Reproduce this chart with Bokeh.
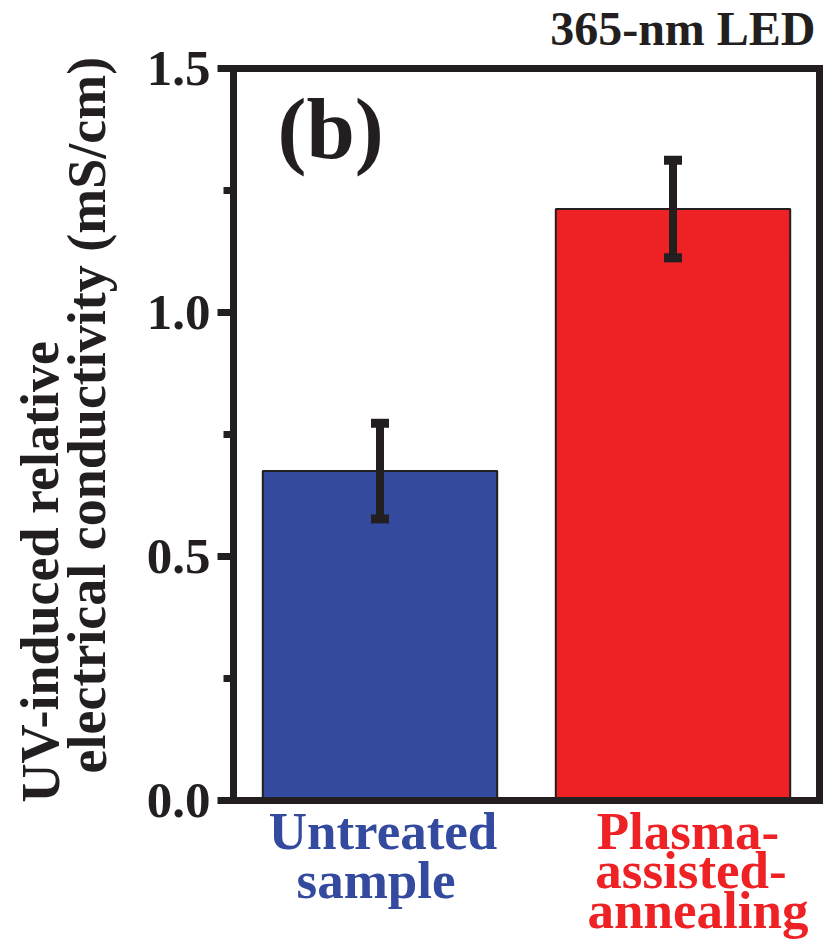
from bokeh.plotting import figure
from bokeh.models import (ColumnDataSource, Whisker, TeeHead, Label,
                          FixedTicker, Range1d, LinearAxis)
from bokeh.embed import file_html
from bokeh.resources import INLINE

# ---- data ----
categories = ["Untreated sample", "Plasma-assisted-annealing"]
cat_lines = [["Untreated", "sample"], ["Plasma-", "assisted-", "annealing"]]
x_pos = [0.5, 1.5]
values = [0.675, 1.212]
errors = [0.098, 0.100]
bar_colors = ["#344A9F", "#EE2224"]
y_ticks = [0.0, 0.5, 1.0, 1.5]
y_minor = [0.25, 0.75, 1.25]
y_tick_labels = {0.0: "0.0", 0.5: "0.5", 1.0: "1.0", 1.5: "1.5"}
y_title_lines = ["UV-induced relative", "electrical conductivity (mS/cm)"]
panel_tag = "(b)"
top_title = "365-nm LED"

INK = "#231F20"
FONT = "Liberation Serif"
W, H = 823, 941

# frame covers the whole canvas; data box (0..2, 0..1.5) maps to px 233..819, 800..68
XS = 293.0
YS = 488.0
x_range = Range1d(-233 / XS, 2 + 4 / XS)
y_range = Range1d(-(H - 800) / YS, 1.5 + 68 / YS)

p = figure(width=W, height=H, output_backend="svg", toolbar_location=None,
           x_range=x_range, y_range=y_range,
           min_border_left=0, min_border_right=0,
           min_border_top=0, min_border_bottom=0)
p.background_fill_color = "white"
p.border_fill_color = "white"
p.outline_line_color = None
p.xgrid.visible = False
p.ygrid.visible = False

# left axis at x = 0
ax = p.yaxis[0]
ax.fixed_location = 0
ax.bounds = (0, 1.5)
ax.ticker = FixedTicker(ticks=y_ticks, minor_ticks=y_minor)
ax.major_label_overrides = y_tick_labels
ax.axis_line_color = INK
ax.axis_line_width = 7
ax.axis_line_cap = "square"
ax.major_tick_line_color = INK
ax.major_tick_line_width = 7
ax.major_tick_out = 16
ax.major_tick_in = 0
ax.minor_tick_line_color = INK
ax.minor_tick_line_width = 7
ax.minor_tick_out = 10
ax.minor_tick_in = 0
ax.major_label_text_font = FONT
ax.major_label_text_font_style = "bold"
ax.major_label_text_font_size = "51px"
ax.major_label_text_color = INK
ax.major_label_standoff = 7


def frame_axis(a, loc, bounds):
    a.fixed_location = loc
    a.bounds = bounds
    a.axis_line_color = INK
    a.axis_line_width = 7
    a.axis_line_cap = "square"
    a.major_tick_line_color = None
    a.minor_tick_line_color = None
    a.major_label_text_font_size = "0px"
    a.major_label_text_alpha = 0


# bottom axis at y = 0
frame_axis(p.xaxis[0], 0, (0, 2))
# right and top frame lines
right_ax = LinearAxis()
frame_axis(right_ax, 2, (0, 1.5))
p.add_layout(right_ax, "right")
top_ax = LinearAxis()
frame_axis(top_ax, 1.5, (0, 2))
p.add_layout(top_ax, "above")

src = ColumnDataSource(dict(
    x=x_pos, top=values, color=bar_colors,
    upper=[v + e for v, e in zip(values, errors)],
    lower=[v - e for v, e in zip(values, errors)],
))

p.vbar(x="x", top="top", bottom=0, width=0.8, source=src,
       fill_color="color", line_color=INK, line_width=2)

wh = Whisker(base="x", upper="upper", lower="lower", source=src,
             level="annotation",
             line_color=INK, line_width=8,
             upper_head=TeeHead(size=18, line_width=9, line_color=INK),
             lower_head=TeeHead(size=18, line_width=9, line_color=INK))
p.add_layout(wh)


def text_label(**kw):
    base = dict(x_units="screen", y_units="screen", text_font=FONT,
                text_font_style="bold", text_color=INK,
                text_align="left", text_baseline="alphabetic")
    base.update(kw)
    p.add_layout(Label(**base))


# y-axis title, two rotated lines
text_label(x=40, y=H - 802, text=y_title_lines[0], angle=1.5708,
           text_font_size="54px")
text_label(x=87, y=H - 773, text=y_title_lines[1], angle=1.5708,
           text_font_size="54px")
# panel tag
text_label(x=277, y=H - 128, text=panel_tag, text_font_size="87px")
# top title
text_label(x=815, y=H - 28, text=top_title, text_font_size="48px",
           text_align="right")

# category labels below bars
baselines = [[830, 879], [830, 869, 909]]
offsets = [[3, -4], [15, 18, 25]]
for i, lines in enumerate(cat_lines):
    for j, line in enumerate(lines):
        text_label(x=x_pos[i], x_units="data", y=H - baselines[i][j],
                   x_offset=offsets[i][j], text=line,
                   text_font_size="53px", text_color=bar_colors[i],
                   text_align="center")

open("out.html", "w").write(file_html(p, INLINE))
